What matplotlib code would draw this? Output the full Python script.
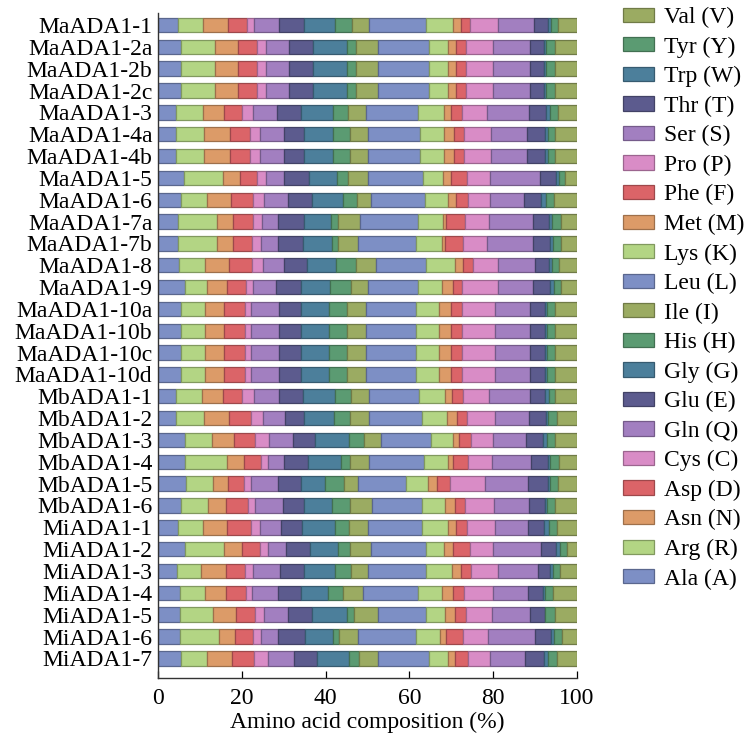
import matplotlib
matplotlib.use('Agg')
import numpy as np
import matplotlib.pyplot as plt
from matplotlib.colors import to_rgb

plt.rcParams['font.family'] = ['Liberation Serif', 'DejaVu Serif']

proteins = ['MaADA1-1', 'MaADA1-2a', 'MaADA1-2b', 'MaADA1-2c', 'MaADA1-3', 'MaADA1-4a',
            'MaADA1-4b', 'MaADA1-5', 'MaADA1-6', 'MaADA1-7a', 'MaADA1-7b', 'MaADA1-8',
            'MaADA1-9', 'MaADA1-10a', 'MaADA1-10b', 'MaADA1-10c', 'MaADA1-10d',
            'MbADA1-1', 'MbADA1-2', 'MbADA1-3', 'MbADA1-4', 'MbADA1-5', 'MbADA1-6',
            'MiADA1-1', 'MiADA1-2', 'MiADA1-3', 'MiADA1-4', 'MiADA1-5', 'MiADA1-6', 'MiADA1-7']

aa_labels = ['Ala (A)', 'Arg (R)', 'Asn (N)', 'Asp (D)', 'Cys (C)', 'Gln (Q)', 'Glu (E)',
             'Gly (G)', 'His (H)', 'Ile (I)', 'Leu (L)', 'Lys (K)', 'Met (M)', 'Phe (F)',
             'Pro (P)', 'Ser (S)', 'Thr (T)', 'Trp (W)', 'Tyr (Y)', 'Val (V)']

Ala = [4.8, 5.4, 5.4, 5.4, 4.4, 4.4, 4.4, 6.2, 5.6, 4.8, 4.8, 5.0, 6.4, 5.6, 5.6, 5.6, 5.6, 4.4, 4.4, 6.5, 6.4, 6.6, 5.6, 4.8, 6.4, 4.6, 5.3, 5.3, 5.2, 5.6]
Arg = [6.0, 8.1, 8.1, 8.1, 6.4, 6.6, 6.6, 9.3, 6.1, 9.3, 9.3, 6.3, 5.3, 5.7, 5.7, 5.7, 5.7, 6.1, 6.6, 6.5, 10.1, 6.5, 6.4, 6.0, 9.4, 5.6, 6.0, 7.8, 9.4, 6.0]
Asn = [6.0, 5.6, 5.6, 5.6, 4.9, 6.1, 6.1, 4.0, 5.8, 3.8, 3.8, 5.6, 4.8, 4.6, 4.6, 4.6, 4.6, 5.0, 6.0, 5.2, 4.1, 3.7, 4.2, 5.8, 4.3, 6.1, 4.9, 5.4, 3.9, 6.1]
Asp = [4.4, 4.6, 4.6, 4.6, 4.2, 4.9, 4.9, 4.1, 5.2, 4.8, 4.4, 5.7, 4.5, 4.8, 4.8, 4.8, 4.8, 4.6, 5.2, 4.9, 4.0, 3.8, 5.3, 5.5, 4.2, 4.4, 4.7, 4.5, 4.1, 5.3]
Cys = [1.8, 2.2, 2.2, 2.2, 2.6, 2.4, 2.4, 2.1, 2.6, 2.2, 2.2, 2.6, 1.6, 1.6, 1.6, 1.6, 1.6, 2.8, 3.0, 3.4, 1.7, 1.6, 1.6, 2.2, 2.0, 2.0, 1.4, 2.2, 2.1, 3.3]
Gln = [6.0, 5.4, 5.4, 5.4, 5.9, 5.6, 5.6, 4.5, 5.6, 3.7, 4.0, 5.0, 5.6, 6.6, 6.6, 6.6, 6.6, 6.0, 5.2, 5.7, 3.8, 6.4, 6.6, 5.2, 4.2, 6.4, 6.2, 5.7, 4.0, 6.2]
Glu = [6.0, 5.7, 5.7, 5.7, 5.6, 4.8, 4.8, 5.9, 5.7, 6.2, 6.1, 5.5, 5.9, 5.2, 5.2, 5.2, 5.2, 5.6, 4.5, 5.2, 5.7, 5.6, 5.2, 4.8, 5.7, 5.8, 5.5, 5.7, 6.4, 5.3]
Gly = [7.3, 8.2, 8.2, 8.2, 7.6, 7.0, 7.0, 6.7, 7.6, 6.5, 6.8, 6.8, 7.0, 6.7, 6.7, 6.7, 6.7, 7.7, 7.3, 8.2, 7.8, 5.7, 6.5, 8.0, 6.8, 7.3, 6.5, 8.4, 6.8, 7.8]
His = [4.2, 2.2, 2.2, 2.2, 3.5, 4.0, 4.0, 2.6, 3.2, 1.6, 1.6, 4.9, 4.9, 4.5, 4.5, 4.5, 4.5, 3.8, 3.8, 3.5, 2.2, 4.5, 4.4, 3.4, 2.8, 3.8, 3.6, 1.6, 1.4, 2.4]
Ile = [4.0, 5.2, 5.2, 5.2, 4.4, 4.4, 4.4, 4.8, 3.4, 5.2, 4.8, 4.7, 4.2, 4.4, 4.4, 4.4, 4.4, 4.4, 4.4, 4.1, 4.6, 3.3, 5.2, 4.5, 5.0, 4.1, 4.8, 5.7, 4.5, 4.5]
Leu = [13.5, 12.2, 12.2, 12.2, 12.4, 12.5, 12.5, 13.1, 12.9, 13.9, 13.8, 12.0, 12.0, 11.9, 11.9, 11.9, 11.9, 12.0, 12.8, 12.0, 13.1, 11.4, 11.9, 12.8, 13.1, 13.9, 13.1, 11.5, 13.9, 12.1]
Lys = [6.5, 4.6, 4.6, 4.6, 6.1, 5.7, 5.7, 4.7, 5.4, 6.0, 6.1, 7.0, 5.7, 5.6, 5.6, 5.6, 5.6, 6.1, 6.0, 5.2, 5.8, 5.3, 5.6, 6.2, 4.4, 6.2, 5.7, 4.4, 5.7, 4.6]
Met = [2.0, 1.9, 1.9, 1.9, 1.8, 2.3, 2.3, 2.0, 2.0, 0.8, 0.8, 2.0, 2.5, 2.9, 2.9, 2.9, 2.9, 1.6, 2.4, 1.6, 1.2, 2.2, 2.2, 2.0, 2.0, 2.2, 2.6, 2.4, 1.4, 1.6]
Phe = [2.0, 2.4, 2.4, 2.4, 2.5, 2.4, 2.4, 3.8, 2.9, 4.4, 4.2, 2.4, 2.2, 2.6, 2.6, 2.6, 2.6, 2.8, 2.4, 2.8, 3.6, 3.0, 2.4, 2.6, 4.0, 2.2, 2.5, 2.8, 4.0, 3.2]
Pro = [6.8, 6.4, 6.4, 6.4, 6.1, 6.5, 6.5, 5.4, 5.2, 5.8, 5.7, 6.0, 8.6, 7.8, 7.8, 7.8, 7.8, 6.1, 6.6, 5.3, 5.6, 8.4, 7.1, 6.6, 5.6, 6.5, 6.9, 6.0, 6.0, 5.2]
Ser = [8.7, 8.8, 8.8, 8.8, 9.8, 8.5, 8.5, 12.0, 8.0, 10.4, 11.0, 8.8, 8.5, 8.5, 8.5, 8.5, 8.5, 9.8, 8.1, 7.8, 9.4, 10.4, 8.2, 8.1, 11.3, 9.5, 8.4, 9.0, 11.3, 8.4]
Thr = [3.3, 3.4, 3.4, 3.4, 4.1, 4.4, 4.4, 3.9, 4.1, 4.0, 4.1, 3.4, 4.0, 3.6, 3.6, 3.6, 3.6, 3.6, 4.0, 4.0, 4.0, 4.6, 3.8, 3.8, 3.8, 3.0, 3.6, 3.6, 3.8, 4.5]
Trp = [0.6, 0.3, 0.3, 0.3, 0.9, 0.6, 0.6, 0.8, 1.2, 0.6, 0.6, 0.6, 0.8, 0.4, 0.4, 0.4, 0.4, 0.8, 0.6, 1.0, 0.6, 0.6, 0.6, 1.0, 0.8, 0.6, 0.4, 0.2, 0.6, 1.0]
Tyr = [1.8, 2.2, 2.2, 2.2, 1.9, 1.8, 1.8, 1.4, 2.0, 2.2, 2.0, 1.6, 1.8, 2.0, 2.0, 2.0, 2.0, 1.6, 2.0, 2.0, 2.0, 1.8, 1.8, 2.0, 1.6, 1.8, 1.9, 2.2, 2.0, 2.0]
Val = [4.5, 5.3, 5.3, 5.3, 4.6, 5.2, 5.2, 2.8, 5.4, 3.8, 3.8, 4.4, 3.8, 5.2, 5.2, 5.2, 5.2, 5.2, 4.9, 5.2, 4.4, 4.6, 5.3, 4.8, 2.5, 4.0, 5.8, 5.3, 3.6, 4.8]

series = [Ala, Arg, Asn, Asp, Cys, Gln, Glu, Gly, His, Ile,
          Leu, Lys, Met, Phe, Pro, Ser, Thr, Trp, Tyr, Val]

base_colors = ['#7d8fc5', '#b3d584', '#dc9b68', '#db6468', '#d98cc6',
               '#a27fc0', '#5c5b8e', '#4c7f9b', '#5b9b72', '#9bab62']
colors = base_colors * 2

vals = np.array(series, dtype=float)
pct = vals / vals.sum(axis=0) * 100.0

fig = plt.figure(figsize=(7.47, 7.37), dpi=100)
ax = fig.add_axes([158 / 747, 1 - 678 / 737, (577 - 158) / 747, (678 - 13) / 737])

y = np.arange(len(proteins))
left = np.zeros(len(proteins))
handles = []
for i, lab in enumerate(aa_labels):
    c = to_rgb(colors[i])
    ec = tuple(v * 0.72 for v in c)
    h = ax.barh(y, pct[i], left=left, height=0.66, color=c, edgecolor=ec,
                linewidth=0.9, label=lab)
    handles.append(h)
    left += pct[i]

ax.set_xlim(0, 100)
ax.set_ylim(len(proteins) - 1 + 0.9, -0.55)
ax.set_yticks(y)
ax.set_yticklabels(proteins, fontsize=17)
ax.set_xticks([0, 20, 40, 60, 80, 100])
ax.set_xticklabels(['0', '20', '40', '60', '80', '100'], fontsize=17)
ax.tick_params(axis='y', length=0, pad=4)
ax.tick_params(axis='x', direction='in', length=5, pad=7, width=0.9)
ax.spines['top'].set_visible(False)
ax.spines['right'].set_visible(False)
for s in ['left', 'bottom']:
    ax.spines[s].set_color('#333333')
    ax.spines[s].set_linewidth(1.0)
ax.set_xlabel('Amino acid composition (%)', fontsize=17, labelpad=2)

fig.legend(handles[::-1], aa_labels[::-1], loc='upper left',
           bbox_to_anchor=(623 / 747, 1 - 7 / 737), frameon=False,
           fontsize=17, handlelength=1.3, handleheight=0.55,
           handletextpad=0.45, labelspacing=0.355, borderpad=0, borderaxespad=0)

fig.savefig('out.png', dpi=100)
